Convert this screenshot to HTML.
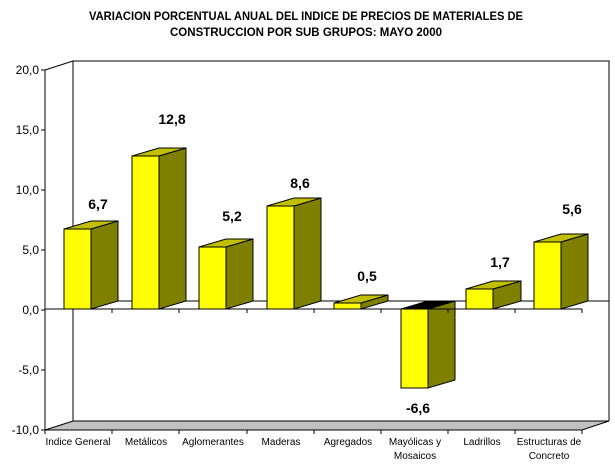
<!DOCTYPE html>
<html><head><meta charset="utf-8"><style>
html,body{margin:0;padding:0;background:#fff;}
svg{display:block;font-family:"Liberation Sans",Arial,sans-serif;}
</style></head><body>
<svg width="615" height="469" viewBox="0 0 615 469" xmlns="http://www.w3.org/2000/svg">
<rect width="615" height="469" fill="#fff"/>
<text x="306" y="20" font-size="12" font-weight="bold" text-anchor="middle" textLength="434" lengthAdjust="spacingAndGlyphs">VARIACION PORCENTUAL ANUAL DEL INDICE DE PRECIOS DE MATERIALES DE</text>
<text x="306" y="36" font-size="12" font-weight="bold" text-anchor="middle" textLength="272" lengthAdjust="spacingAndGlyphs">CONSTRUCCION POR SUB GRUPOS: MAYO 2000</text>
<polygon points="45,430 73,421 609,421 582,430" fill="#c0c0c0" stroke="#000" stroke-width="1"/>
<polyline points="73,421 73,61 609,61 609,421" fill="none" stroke="#000"/>
<line x1="45" y1="70" x2="73" y2="61" stroke="#000"/>
<line x1="45" y1="70" x2="45" y2="430" stroke="#000"/>
<line x1="73" y1="301" x2="609" y2="301" stroke="#000"/>
<g stroke="#000">
<line x1="41" y1="70" x2="45" y2="70"/><line x1="41" y1="130" x2="45" y2="130"/><line x1="41" y1="190" x2="45" y2="190"/><line x1="41" y1="250" x2="45" y2="250"/><line x1="41" y1="310" x2="45" y2="310"/><line x1="41" y1="370" x2="45" y2="370"/><line x1="41" y1="430" x2="45" y2="430"/>
</g>
<g font-size="12" text-anchor="end">
<text x="39" y="74">20,0</text><text x="39" y="134">15,0</text><text x="39" y="194">10,0</text><text x="39" y="254">5,0</text><text x="39" y="314">0,0</text><text x="39" y="374">-5,0</text><text x="39" y="434">-10,0</text>
</g>
<g stroke="#000" stroke-width="1" stroke-linejoin="miter">
<polygon points="91,229 118,221 118,301 91,309" fill="#808000"/><polygon points="64,229 91,221 118,221 91,229" fill="#c0c000"/><rect x="64" y="229" width="27" height="80" fill="#ffff00"/>
<polygon points="159,156 186,148 186,301 159,309" fill="#808000"/><polygon points="132,156 159,148 186,148 159,156" fill="#c0c000"/><rect x="132" y="156" width="27" height="153" fill="#ffff00"/>
<polygon points="226,247 253,239 253,301 226,309" fill="#808000"/><polygon points="199,247 226,239 253,239 226,247" fill="#c0c000"/><rect x="199" y="247" width="27" height="62" fill="#ffff00"/>
<polygon points="294,206 321,198 321,301 294,309" fill="#808000"/><polygon points="267,206 294,198 321,198 294,206" fill="#c0c000"/><rect x="267" y="206" width="27" height="103" fill="#ffff00"/>
<polygon points="361,303 388,295 388,301 361,309" fill="#808000"/><polygon points="334,303 361,295 388,295 361,303" fill="#c0c000"/><rect x="334" y="303" width="27" height="6" fill="#ffff00"/>
<polygon points="428,309 455,301 455,380 428,388" fill="#808000"/><polygon points="401,309 428,301 455,301 428,309" fill="#000"/><rect x="401" y="309" width="27" height="79" fill="#ffff00"/>
<polygon points="493,289 521,281 521,301 493,309" fill="#808000"/><polygon points="466,289 493,281 521,281 493,289" fill="#c0c000"/><rect x="466" y="289" width="27" height="20" fill="#ffff00"/>
<polygon points="561,242 588,234 588,301 561,309" fill="#808000"/><polygon points="534,242 561,234 588,234 561,242" fill="#c0c000"/><rect x="534" y="242" width="27" height="67" fill="#ffff00"/>
</g>
<g stroke="#000">
<line x1="45" y1="309" x2="582" y2="309"/>
<line x1="112" y1="309" x2="112" y2="313"/><line x1="179" y1="309" x2="179" y2="313"/><line x1="247" y1="309" x2="247" y2="313"/><line x1="314" y1="309" x2="314" y2="313"/><line x1="381" y1="309" x2="381" y2="313"/><line x1="448" y1="309" x2="448" y2="313"/><line x1="515" y1="309" x2="515" y2="313"/><line x1="582" y1="309" x2="582" y2="313"/>
<line x1="45" y1="430" x2="45" y2="434"/><line x1="112" y1="430" x2="112" y2="434"/><line x1="179" y1="430" x2="179" y2="434"/><line x1="247" y1="430" x2="247" y2="434"/><line x1="314" y1="430" x2="314" y2="434"/><line x1="381" y1="430" x2="381" y2="434"/><line x1="448" y1="430" x2="448" y2="434"/><line x1="515" y1="430" x2="515" y2="434"/><line x1="582" y1="430" x2="582" y2="434"/>
</g>
<g font-size="14" font-weight="bold" text-anchor="middle">
<text x="98" y="209">6,7</text><text x="172" y="124">12,8</text><text x="232" y="221">5,2</text><text x="300" y="188">8,6</text><text x="367" y="281">0,5</text><text x="418" y="413">-6,6</text><text x="500" y="267">1,7</text><text x="572" y="214">5,6</text>
</g>
<g font-size="10" text-anchor="middle">
<text x="78" y="445">Indice General</text><text x="146" y="445">Metálicos</text><text x="213" y="445">Aglomerantes</text><text x="281" y="445">Maderas</text><text x="348" y="445">Agregados</text><text x="415" y="445">Mayólicas y</text><text x="415" y="459">Mosaicos</text><text x="482" y="445">Ladrillos</text><text x="549" y="445">Estructuras de</text><text x="549" y="459">Concreto</text>
</g>
</svg>
</body></html>
